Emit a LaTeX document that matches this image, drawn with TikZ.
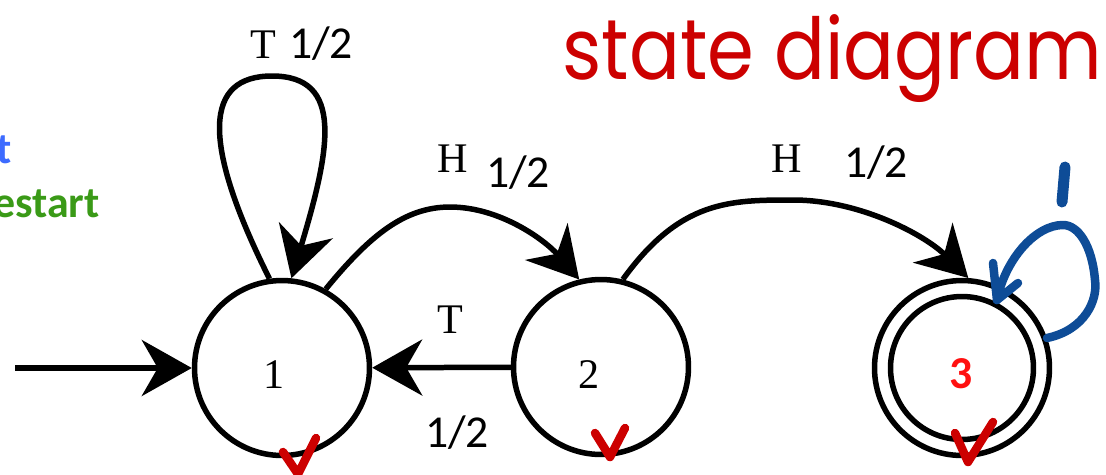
\documentclass[tikz,border=0pt]{standalone}
\usepackage{fontspec}
\setmainfont{Liberation Serif}
\newfontfamily\calfont{Carlito}
\newfontfamily\handfont{Poppins}
\usetikzlibrary{arrows.meta}
\definecolor{inkred}{HTML}{CC0000}
\definecolor{brightred}{HTML}{FF1010}
\definecolor{inkblue}{HTML}{0E4C97}
\definecolor{tblue}{HTML}{3D6BFF}
\definecolor{tgreen}{HTML}{3A9A17}
\tikzset{
  state/.style={circle, draw, line width=0.11cm, minimum size=3.5cm, inner sep=0pt},
  edge/.style={line width=0.11cm, -{Stealth[length=1.0cm, width=1.12cm, inset=0.32cm]}},
  serif/.style={font=\fontsize{24}{28}\selectfont, anchor=base},
  prob/.style={font=\calfont\fontsize{26}{30}\selectfont, anchor=base},
  check/.style={inkred, line width=0.17cm, line cap=round, line join=round},
  pen/.style={inkblue, line width=0.17cm, line cap=round, line join=round}
}
\begin{document}
\begin{tikzpicture}[x=0.02cm, y=-0.02cm]
\useasboundingbox (0,0) rectangle (1106,474);
% states
\node[state] (n1) at (282,368) {};
\node[state] (n2) at (601,367) {};
\node[state] (n3) at (962,368) {};
\node[circle, draw, line width=0.11cm, minimum size=2.86cm, inner sep=0pt] (n3in) at (962,368) {};
\node[serif] (l1) at (274,388) {1};
\node[serif] (l2) at (589,388) {2};
\node[font=\calfont\bfseries\fontsize{26}{30}\selectfont, anchor=base, text=brightred] (l3) at (961,388) {3};
% start arrow
\coordinate (start) at (15,368);
\draw[edge] (start) -- (n1);
% 2 -> 1
\draw[edge] (n2) -- (n1);
% loop on 1
\draw[edge] (n1.98) .. controls (200,140) and (205,76) .. (272,76) .. controls (345,76) and (330,150) .. (n1.84);
% 1 -> 2
\draw[edge] (n1.61) .. controls (370,235) and (405,207) .. (450,207) .. controls (500,207) and (545,240) .. (n2.104);
% 2 -> 3
\draw[edge] (n2.76) .. controls (680,200) and (730,200) .. (793,200) .. controls (860,200) and (925,235) .. (n3.86);
% labels
\node[serif] (tT) at (263,58) {T};
\node[prob] (tp) at (321,58) {1/2};
\node[serif] (h1) at (453,172) {H};
\node[prob] (h1p) at (518,187) {1/2};
\node[serif] (h2) at (787,172) {H};
\node[prob] (h2p) at (876,177) {1/2};
\node[serif] (bT) at (450,333) {T};
\node[prob] (bp) at (457,447) {1/2};
% side words
\node[font=\calfont\bfseries\fontsize{25}{30}\selectfont, anchor=base east, text=tblue, inner sep=0pt] (wt) at (12,163) {t};
\node[font=\calfont\bfseries\fontsize{25}{30}\selectfont, anchor=base east, text=tgreen, inner sep=0pt] (ws) at (100,217) {estart};
% handwritten title
\node[anchor=north west, inner sep=0pt, text=inkred] (title) at (562,14) {\resizebox*{10.8cm}{1.76cm}{\handfont state diagram}};
% checks
\draw[check] (283,452) -- (298,474) -- (316,438);
\draw[check] (595,433) -- (610,457) -- (625,428);
\draw[check] (955,433) -- (968,462) -- (993,422);
% blue self-loop on 3
\draw[pen] (1047,338) .. controls (1085,330) and (1098,300) .. (1095,280) .. controls (1092,245) and (1078,225) .. (1063,225) .. controls (1035,225) and (1005,260) .. (997,300);
\draw[pen] (993,263) -- (997,300) -- (1018,283);
\draw[pen, line width=0.22cm] (1065,167) -- (1062,202);
\end{tikzpicture}
\end{document}
